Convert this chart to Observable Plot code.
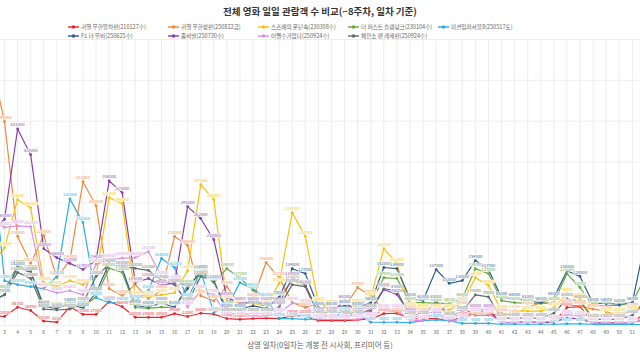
<!DOCTYPE html>
<html><head><meta charset="utf-8">
<script src="https://cdn.jsdelivr.net/npm/d3@7"></script>
<script src="https://cdn.jsdelivr.net/npm/@observablehq/plot@0.6"></script>
<style>
body{margin:0;background:#fff;font-family:"Noto Sans CJK KR","Noto Sans",sans-serif;}
#wrap{position:relative;width:640px;height:360px;overflow:hidden;background:#fff;}
#chart{position:absolute;left:0;top:0;}
#title{position:absolute;top:4px;left:0;width:640px;text-align:center;font-size:9.5px;font-weight:bold;color:#333;}
.leg{position:absolute;font-size:5.6px;color:#666;white-space:nowrap;display:flex;align-items:center;height:8px;}
.leg svg{margin-right:2px;}
#xlab{position:absolute;top:339px;left:0;width:640px;text-align:center;font-size:7.5px;color:#666;}
</style></head><body>
<div id="wrap"><div id="chart"></div><div id="title"></div><div id="legend"></div><div id="xlab"></div></div>
<script>
const titleText = "전체 영화 일일 관람객 수 비교(~8주차, 일차 기준)";
const xTitle = "상영 일차(0일차는 개봉 전 시사회, 프리미어 등)";
const days = d3.range(2, 54);
const seriesNames = ["귀멸 무한열차편(210127수)","귀멸 무한성편(250822금)","스즈메의 문단속(230308수)","더 퍼스트 슬램덩크(230104수)","미션임파서블8(250517토)","F1 더 무비(250625수)","좀비딸(250730수)","어쩔수가없다(250924수)","체인소 맨 레제편(250924수)"];
const seriesColors = ["#e8262b","#f08a3c","#f5c20a","#67a83f","#2aaee3","#2f5d8c","#8a3fa8","#d992e3","#5f6d6a"];

const mugenTrain = [25000,22000,44700,36700,10500,8100,46400,27000,27000,59000, 46000,20000,20000,20000,29000,22000,30000,28000,17000,15000, 17000,18000,17000,24000,23000,12000,12000,12000,14000,16000, 29000,30000,17000,17000,17000,12000,20000,34000,34000,7000, 7000,8000,7000,9000,44000,46000,7000,7000,7000,8000, 30000,30000];
const infinityCastle = [643000,499000,218000,152000,220000,117000,159000,352000,293000,90000, 73000,100000,66000,85000,218000,196000,73000,60000,95000,50000, 66000,154000,117000,56000,44000,55000,40000,45000,93000,73000, 37000,33000,40000,30000,33000,50000,45000,25000,25000,30000, 25000,45000,55000,55000,50000,48000,40000,35000,20000,42000, 40000,20000];
const suzume = [150000,190000,308000,288000,105000,95000,110000,100000,120000,313000, 298000,70000,70000,75000,80000,134000,345000,308000,61000,54000, 54000,50000,103000,276000,218000,54000,48000,45000,50000,68000, 188000,152000,44000,40000,40000,38000,56000,117000,98000,37000, 37000,35000,35000,44000,78000,66000,17000,30000,30000,35000, 55000,50000];
const slamDunk = [70000,86000,147000,134000,49000,44000,49000,46000,70000,140000, 130000,44000,42000,45000,44000,98000,127000,105000,139000,117000, 86000,66000,68000,110000,98000,29000,32000,32000,34000,54000, 117000,115000,56000,56000,54000,54000,66000,139000,127000,61000, 56000,54000,54000,56000,127000,93000,49000,49000,49000,56000, 120000,100000];
const missionImpossible = [430000,110000,100000,95000,90000,120000,310000,252000,68000,56000, 55000,60000,85000,164000,142000,66000,132000,32000,44000,105000, 90000,66000,17000,17000,15000,16000,25000,30000,28000,8000, 8000,8000,7000,12000,14000,12000,5000,5000,5000,3000, 3000,3000,3000,3000,4000,4000,3000,2000,2000,2000, 2000,2000];
const f1Movie = [60000,75000,142000,130000,46000,42000,54000,42000,80000,152000, 139000,49000,45000,55000,45000,90000,134000,108000,40000,40000, 48000,42000,70000,139000,127000,44000,44000,48000,44000,56000, 142000,139000,66000,61000,137000,103000,110000,159000,137000,68000, 66000,61000,56000,68000,134000,120000,54000,54000,52000,56000, 210000,150000];
const zombieDaughter = [230000,260000,481000,418000,188000,166000,152000,137000,159000,354000, 325000,105000,115000,98000,105000,291000,262000,210000,68000,56000, 56000,55000,54000,117000,98000,32000,32000,60000,30000,35000, 88000,76000,29000,24000,24000,22000,28000,40000,38000,8000, 7000,10000,7000,9000,18000,16000,6000,6000,6000,7000, 15000,14000];
const noOtherChoice = [260000,240000,244000,242000,90000,80000,85000,75000,150000,160000, 165000,166000,181000,120000,110000,45000,85000,75000,25000,22000, 22000,22000,30000,55000,50000,15000,15000,15000,15000,20000, 40000,38000,12000,12000,30000,10000,15000,30000,28000,8000, 8000,8000,8000,12000,25000,22000,6000,6000,6000,8000, 18000,16000];
const chainsawMan = [60000,75000,130000,115000,40000,38000,40000,55000,120000,150000, 145000,140000,135000,110000,100000,55000,120000,110000,30000,28000, 28000,30000,45000,100000,95000,25000,25000,25000,25000,40000, 90000,85000,22000,22000,60000,20000,35000,75000,70000,18000, 18000,18000,18000,30000,65000,60000,15000,15000,15000,25000, 60000,55000];
const yGridValues = [0,100000,200000,300000,400000,500000,600000,700000];

const seriesValues = [mugenTrain,infinityCastle,suzume,slamDunk,missionImpossible,f1Movie,zombieDaughter,noOtherChoice,chainsawMan];
const data = seriesValues.flatMap((arr, k) => days.map((d, i) => ({day: d, value: arr[i], series: seriesNames[k]})));
const labelData = data.filter(d => d.day >= 3 && d.day <= 51);

document.getElementById("title").textContent = titleText;
document.getElementById("xlab").textContent = xTitle;

// legend layout
const legendPos = [[68,23],[168,23],[258,23],[348,23],[438,23],[68,32],[168,32],[258,32],[348,32]];
const legend = document.getElementById("legend");
seriesNames.forEach((n, i) => {
  const el = document.createElement("div");
  el.className = "leg";
  el.style.left = legendPos[i][0] + "px";
  el.style.top = legendPos[i][1] + "px";
  el.innerHTML = `<svg width="11" height="6"><line x1="0" y1="3" x2="11" y2="3" stroke="${seriesColors[i]}" stroke-width="1.4"/><circle cx="5.5" cy="3" r="1.8" fill="${seriesColors[i]}"/></svg><span>${n}</span>`;
  legend.appendChild(el);
});

const pxPerDay = 13.08;
const xMin = 3 - 4 / pxPerDay;
const xMax = xMin + 640 / pxPerDay;

const chart = Plot.plot({
  width: 640, height: 360,
  marginTop: 39, marginBottom: 35, marginLeft: 0, marginRight: 0,
  style: {background: "transparent", fontFamily: "'Noto Sans CJK KR', sans-serif"},
  x: {domain: [xMin, xMax], axis: null},
  y: {domain: [0, 700000], axis: null},
  color: {domain: seriesNames, range: seriesColors},
  marks: [
    Plot.ruleY(yGridValues, {stroke: "#e6e6e6", strokeWidth: 0.7}),
    Plot.ruleX(days, {stroke: "#e6e6e6", strokeWidth: 0.7, y1: 0, y2: 700000, clip: true}),
    Plot.axisX(days.filter(d => d >= 3 && d <= 51), {tickSize: 0, tickPadding: 5, fontSize: 5, fill: "#666", label: null, tickFormat: d => String(d)}),
    Plot.line(data, {x: "day", y: "value", z: "series", stroke: "series", strokeWidth: 1.2, clip: true}),
    Plot.dot(data, {x: "day", y: "value", fill: "series", r: 1.4, clip: true}),
    Plot.text(labelData, {x: "day", y: "value", text: d => String(d.value), fill: "series", dy: -4, fontSize: 4.2, stroke: "white", strokeWidth: 1.2, clip: true})
  ]
});
document.getElementById("chart").appendChild(chart);
</script>
</body></html>
